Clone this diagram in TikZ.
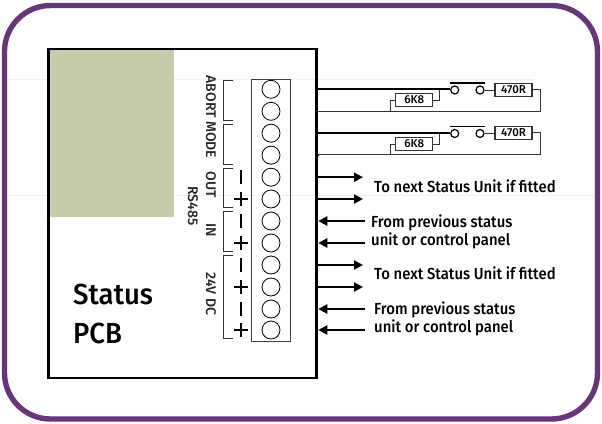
\documentclass[tikz,border=0pt]{standalone}
\usepackage{fontspec}
\setmainfont{Fira Sans}
\newfontfamily\medf{Fira Sans Medium}
\usetikzlibrary{arrows.meta}
\definecolor{framepurple}{HTML}{66357A}
\definecolor{pcbgreen}{HTML}{C8CCAD}
\definecolor{faint}{HTML}{F1F1F1}
\tikzset{
  x=1pt,y=-1pt,
  frameline/.style={draw=framepurple,line width=5.4pt,rounded corners=46pt},
  pcbbox/.style={draw=black,line width=2.9pt,minimum width=268pt,minimum height=329pt,inner sep=0pt},
  stripbox/.style={draw=black!75,line width=1pt,minimum width=39pt,minimum height=262pt,inner sep=0pt},
  term/.style={circle,draw=black,line width=.8pt,minimum size=18pt,inner sep=0pt,fill=white},
  contact/.style={circle,draw=black,line width=1.2pt,minimum size=8pt,inner sep=0pt,fill=white},
  resbox/.style={draw=black!80,line width=1.1pt,minimum height=12.5pt,inner sep=0pt,font=\medf\fontsize{11.5}{12}\selectfont},
  bracket/.style={draw=black!80,line width=.7pt},
  heavy/.style={draw=black,line width=1.7pt},
  thin/.style={draw=black!80,line width=1pt},
  sign/.style={draw=black,line width=1.9pt},
  sigarrow/.style={draw=black,line width=2pt,-{Triangle[length=9pt,width=9pt]}},
  vlabel/.style={rotate=-90,font=\medf\fontsize{14}{16}\selectfont,inner sep=0pt,text=black!85},
  note/.style={font=\medf\fontsize{16}{18}\selectfont\addfontfeature{FakeStretch=.93},inner sep=0pt,anchor=base west},
  bigtext/.style={font=\medf\fontsize{29}{30}\selectfont\addfontfeature{FakeStretch=.95},inner sep=0pt,anchor=base west},
}
\begin{document}
\begin{tikzpicture}
\useasboundingbox (0,0) rectangle (602,423);
\fill[white] (0,0) rectangle (602,423);
\draw[faint,line width=.8pt] (8,79) -- (534,79);
\draw[faint,line width=.8pt] (8,195) -- (596,195);
\fill[pcbgreen] (49,50) rectangle (174,217);
\path[frameline] (4.5,5.5) rectangle (597.5,419);
\node[pcbbox] (pcb) at (182.8,213.5) {};
\node[stripbox] (strip) at (271,210) {};
\foreach \n/\y in {1/89.3,2/111.3,3/133.2,4/155.2,5/177.2,6/199,7/221,8/243,9/265,10/287,11/309,12/330}{
  \node[term] (t\n) at (271,\y) {};
}
% brackets
\draw[bracket] (233,80.7) -- (223.3,80.7) -- (223.3,120) -- (233,120);
\draw[bracket] (233,124.3) -- (223.3,124.3) -- (223.3,164) -- (233,164);
\draw[bracket] (233,168.3) -- (223.3,168.3) -- (223.3,207.3) -- (233,207.3);
\draw[bracket] (233,211.8) -- (223.3,211.8) -- (223.3,251) -- (233,251);
\draw[bracket] (233,255.7) -- (223.3,255.7) -- (223.3,338) -- (233,338);
% signs
\foreach \n in {5,7,9,11}{ \draw[sign] (240.7,0 |- t\n) ++(0,-7) -- ++(0,14); }
\foreach \n in {6,8,10,12}{
  \draw[sign] (234,0 |- t\n) -- ++(13.5,0);
  \draw[sign] (240.7,0 |- t\n) ++(0,-7) -- ++(0,14);
}
% rotated labels
\node[vlabel] (abort) at (211,117) {ABORT MODE};
\node[vlabel] (out) at (211,185) {OUT};
\node[vlabel] (rs) at (193,206) {RS485};
\node[vlabel] (in) at (211,230) {IN};
\node[vlabel] (dc) at (211,294) {24V DC};
% big label
\node[bigtext] (st) at (73,304) {Status};
\node[bigtext] (pc) at (73,343) {PCB};
% switch networks
\foreach \k/\a/\b/\cy/\ry/\sy/\by in {1/t1/t2/90/100/90/82.7, 2/t3/t4/133.5/144/133/126.5}{
  \coordinate (sa\k) at (pcb.east |- \a);
  \coordinate (sb\k) at (pcb.east |- \b);
  \node[contact] (ca\k) at (454.7,\cy) {};
  \node[contact] (cb\k) at (480,\cy) {};
  \node[resbox,minimum width=37pt] (r\k) at (414.2,\ry) {6K8};
  \node[resbox,minimum width=37pt] (s\k) at (513.5,\sy) {470R};
  \coordinate (jt\k) at (439,\cy);
  \coordinate (corner\k) at (540.5,\sy-1);
  \coordinate (lowr\k) at (540.5,\cy+21.3);
  \coordinate (ldrop\k) at (390,\cy+21.3);
  \draw[heavy] (sa\k) -- (sa\k -| ca\k.west);
  \draw[thin] (r\k.east) -| (jt\k);
  \draw[thin] (r\k.west) -| (ldrop\k);
  \draw[thin] (sb\k) |- (lowr\k) -- (corner\k) -- (corner\k -| s\k.east);
  \draw[thin] (cb\k.east) -- (cb\k.east -| s\k.west);
  \draw[heavy] (450,\by) -- (485,\by);
}
% signal arrows
\foreach \n in {5,6,9,10}{
  \coordinate (ar\n) at (363,0 |- t\n);
  \draw[sigarrow] (pcb.east |- t\n) -- (ar\n);
}
\foreach \n in {7,8,11,12}{
  \coordinate (al\n) at (365,0 |- t\n);
  \draw[sigarrow] (al\n) -- (pcb.east |- t\n);
}
% notes
\node[note] (n1) at (374,192) {To next Status Unit if fitted};
\node[note] (n2) at (371,227) {From previous status};
\node[note] (n3) at (371,245) {unit or control panel};
\node[note] (n4) at (374,279) {To next Status Unit if fitted};
\node[note] (n5) at (374,314.5) {From previous status};
\node[note] (n6) at (374,332.5) {unit or control panel};
\end{tikzpicture}
\end{document}
